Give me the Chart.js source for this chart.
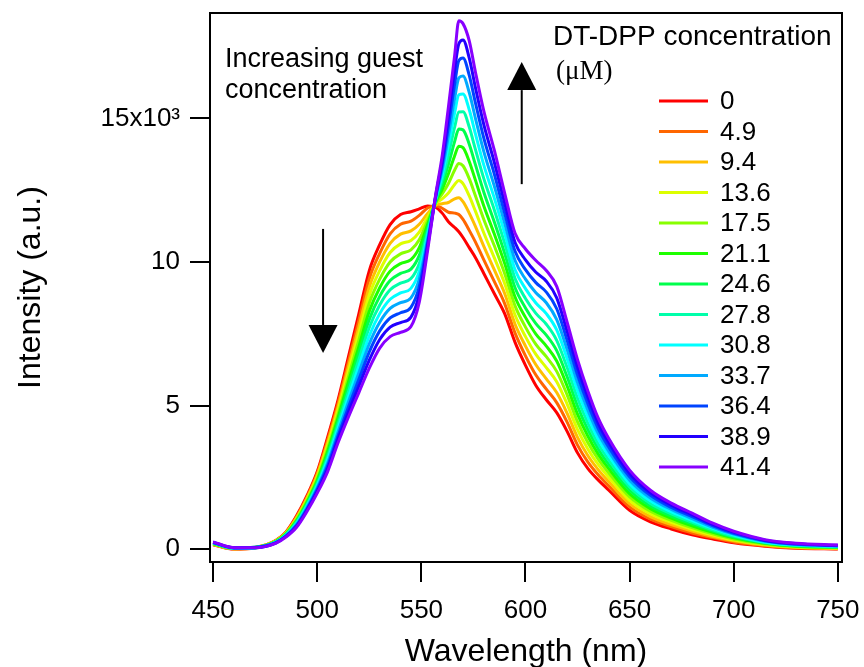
<!DOCTYPE html>
<html>
<head>
<meta charset="utf-8">
<script src="https://cdn.jsdelivr.net/npm/chart.js@4"></script>
<style>
body { margin: 0; background: #fff; }
canvas { display: block; }
</style>
</head>
<body>
<canvas id="spectra" width="864" height="667"></canvas>
<script>
// wavelengths (nm) shared by every spectrum
const wavelengths = [450, 460, 470, 480, 485, 490, 495, 500, 505, 510, 515, 520, 525, 530, 535, 540, 545, 549, 553, 557,
    560, 563, 566, 568, 570, 573, 576, 580, 585, 590, 595, 600, 605, 610, 615, 620, 625, 630, 635, 640,
    650, 660, 670, 680, 690, 700, 715, 730, 750];

// intensity in units of 10^3, one array per DT-DPP concentration
const i00 = [.15, 0, .05, .30, .60, 1.15, 1.85, 2.70, 3.90, 5.20, 6.70, 8.20, 9.70, 10.60, 11.30, 11.65, 11.75, 11.85, 11.95, 11.90,
    11.70, 11.40, 11.20, 11.05, 10.85, 10.50, 10.15, 9.60, 8.90, 8.20, 7.20, 6.40, 5.70, 5.20, 4.75, 4.10, 3.35, 2.80, 2.40, 2.05,
    1.35, .95, .70, .50, .35, .22, .10, .03, 0];
const i49 = [.16, 0, .04, .29, .59, 1.12, 1.80, 2.64, 3.80, 5.08, 6.53, 7.97, 9.42, 10.30, 10.98, 11.31, 11.42, 11.62, 11.88, 11.96,
    11.87, 11.73, 11.70, 11.65, 11.48, 11.10, 10.69, 10.07, 9.32, 8.55, 7.52, 6.73, 6.06, 5.57, 5.10, 4.42, 3.62, 3.03, 2.58, 2.20,
    1.47, 1.04, .78, .56, .40, .25, .12, .04, .01];
const i94 = [.17, .01, .06, .28, .57, 1.08, 1.76, 2.58, 3.70, 4.95, 6.35, 7.74, 9.13, 10.00, 10.65, 10.97, 11.08, 11.31, 11.69, 11.98,
    12.03, 12.07, 12.20, 12.24, 12.10, 11.70, 11.23, 10.54, 9.73, 8.90, 7.83, 7.07, 6.42, 5.93, 5.45, 4.73, 3.89, 3.25, 2.76, 2.35,
    1.58, 1.13, .85, .63, .44, .29, .14, .06, .02];
const i136 = [.17, .01, .05, .28, .56, 1.05, 1.71, 2.51, 3.60, 4.83, 6.18, 7.51, 8.85, 9.70, 10.33, 10.63, 10.75, 11.04, 11.56, 12.03,
    12.20, 12.40, 12.70, 12.84, 12.73, 12.30, 11.76, 11.01, 10.15, 9.25, 8.15, 7.40, 6.78, 6.32, 5.83, 5.05, 4.16, 3.48, 2.94, 2.50,
    1.70, 1.23, .93, .69, .49, .32, .16, .07, .04];
const i175 = [.18, .02, .04, .27, .54, 1.02, 1.67, 2.45, 3.50, 4.70, 6.00, 7.28, 8.57, 9.40, 10.00, 10.28, 10.42, 10.77, 11.43, 12.07,
    12.37, 12.73, 13.20, 13.43, 13.35, 12.90, 12.30, 11.48, 10.57, 9.60, 8.47, 7.73, 7.13, 6.70, 6.19, 5.37, 4.43, 3.70, 3.12, 2.65,
    1.82, 1.32, 1.00, .75, .53, .35, .18, .09, .05];
const i211 = [.19, .02, .05, .26, .53, .98, 1.62, 2.39, 3.40, 4.58, 5.83, 7.05, 8.28, 9.10, 9.68, 9.94, 10.08, 10.50, 11.30, 12.11,
    12.53, 13.07, 13.70, 14.03, 13.98, 13.50, 12.84, 11.95, 10.98, 9.95, 8.78, 8.07, 7.49, 7.07, 6.55, 5.68, 4.70, 3.93, 3.30, 2.80,
    1.93, 1.41, 1.08, .81, .58, .39, .20, .10, .06];
const i246 = [.20, .03, .06, .25, .51, .95, 1.58, 2.33, 3.30, 4.45, 5.65, 6.83, 8.00, 8.80, 9.35, 9.60, 9.75, 10.23, 11.18, 12.15,
    12.70, 13.40, 14.20, 14.63, 14.60, 14.10, 13.38, 12.43, 11.40, 10.30, 9.10, 8.40, 7.85, 7.45, 6.91, 6.00, 4.98, 4.15, 3.48, 2.95,
    2.05, 1.50, 1.15, .88, .63, .42, .22, .12, .07];
const i278 = [.21, .03, .05, .24, .50, .92, 1.53, 2.26, 3.20, 4.33, 5.48, 6.60, 7.72, 8.50, 9.03, 9.26, 9.42, 9.95, 11.05, 12.19,
    12.87, 13.73, 14.70, 15.22, 15.23, 14.70, 13.91, 12.90, 11.82, 10.65, 9.42, 8.73, 8.21, 7.83, 7.27, 6.32, 5.25, 4.38, 3.65, 3.10,
    2.17, 1.59, 1.23, .94, .67, .45, .23, .13, .08];
const i308 = [.22, .03, .04, .23, .48, .88, 1.48, 2.20, 3.10, 4.20, 5.30, 6.37, 7.43, 8.20, 8.70, 8.92, 9.08, 9.68, 10.92, 12.23,
    13.03, 14.07, 15.20, 15.82, 15.85, 15.30, 14.45, 13.37, 12.23, 11.00, 9.73, 9.07, 8.57, 8.20, 7.63, 6.63, 5.52, 4.60, 3.83, 3.25,
    2.28, 1.68, 1.30, 1.00, .72, .49, .25, .14, .09];
const i337 = [.22, .04, .05, .23, .47, .85, 1.44, 2.14, 3.00, 4.08, 5.13, 6.14, 7.15, 7.90, 8.38, 8.58, 8.75, 9.41, 10.79, 12.28,
    13.20, 14.40, 15.70, 16.41, 16.48, 15.90, 14.99, 13.84, 12.65, 11.35, 10.05, 9.40, 8.93, 8.58, 7.99, 6.95, 5.79, 4.83, 4.01, 3.40,
    2.40, 1.78, 1.38, 1.06, .76, .52, .27, .16, .11];
const i364 = [.23, .04, .06, .22, .45, .82, 1.39, 2.08, 2.90, 3.95, 4.95, 5.91, 6.87, 7.60, 8.05, 8.23, 8.42, 9.14, 10.66, 12.32,
    13.37, 14.73, 16.20, 17.01, 17.10, 16.50, 15.53, 14.31, 13.07, 11.70, 10.37, 9.73, 9.28, 8.95, 8.37, 7.27, 6.06, 5.05, 4.19, 3.55,
    2.52, 1.87, 1.45, 1.13, .81, .55, .29, .17, .12];
const i389 = [.24, .05, .05, .21, .44, .78, 1.35, 2.01, 2.80, 3.83, 4.78, 5.68, 6.58, 7.30, 7.73, 7.89, 8.08, 8.87, 10.53, 12.36,
    13.53, 15.07, 16.70, 17.60, 17.73, 17.10, 16.06, 14.78, 13.48, 12.05, 10.68, 10.07, 9.64, 9.33, 8.75, 7.58, 6.33, 5.28, 4.37, 3.70,
    2.63, 1.96, 1.53, 1.19, .85, .59, .31, .19, .13];
const i414 = [.25, .05, .05, .20, .42, .75, 1.30, 1.95, 2.70, 3.70, 4.60, 5.45, 6.30, 7.00, 7.40, 7.55, 7.75, 8.60, 10.40, 12.40,
    13.70, 15.40, 17.20, 18.40, 18.30, 17.70, 16.60, 15.25, 13.90, 12.40, 11.00, 10.45, 10.05, 9.70, 9.15, 7.90, 6.60, 5.50, 4.55, 3.85,
    2.75, 2.05, 1.60, 1.25, .90, .62, .33, .20, .14];

const concLabels = ['0', '4.9', '9.4', '13.6', '17.5', '21.1', '24.6', '27.8', '30.8', '33.7', '36.4', '38.9', '41.4'];
const colors = ['#ff0000', '#ff6600', '#ffbf00', '#ddff00', '#88ff00', '#1eff00', '#00ff4c', '#00ffaa',
    '#00ffff', '#00aaff', '#0044ff', '#2200ff', '#8800ff'];
const xTicks = [450, 500, 550, 600, 650, 700, 750];
const yTicks = [0, 5, 10, 15];

const series = [i00, i49, i94, i136, i175, i211, i246, i278, i308, i337, i364, i389, i414];

const FONT = "'Liberation Sans', Arial, sans-serif";

let datasets = series.map(function(vals, k) {
    return {
        label: concLabels[k],
        data: vals.map(function(v, j) { return { x: wavelengths[j], y: v }; }),
        borderColor: colors[k],
        backgroundColor: colors[k],
        borderWidth: 3,
        pointRadius: 0,
        cubicInterpolationMode: 'monotone',
        order: series.length - k   // last concentration on top
    };
});

// no label overflow padding, the frame is placed by layout.padding
function noPad(scale) {
    scale.paddingTop = 0;
    scale.paddingBottom = 0;
    scale.paddingLeft = 0;
    scale.paddingRight = 0;
}

// frame, legend, arrows and annotation text
const extras = {
    id: 'extras',
    afterDraw: function(chart) {
        const ctx = chart.ctx;
        const a = chart.chartArea;
        const xs = chart.scales.x, ys = chart.scales.y;
        ctx.save();
        ctx.strokeStyle = '#000';
        ctx.lineWidth = 2;
        ctx.beginPath();
        ctx.moveTo(a.left - 1, a.top);
        ctx.lineTo(a.right, a.top);
        ctx.lineTo(a.right, a.bottom + 1);
        ctx.stroke();

        // legend
        ctx.fillStyle = '#000';
        ctx.textBaseline = 'middle';
        ctx.font = '28px ' + FONT;
        ctx.fillText('DT-DPP concentration', 553, 37);
        ctx.font = "27px 'Liberation Serif', 'Times New Roman', serif";
        ctx.fillText('(\u03bcM)', 556, 72);
        ctx.font = '26px ' + FONT;
        chart.data.datasets.forEach(function(ds, i) {
            let y = 101 + i * 30.5;
            ctx.strokeStyle = ds.borderColor;
            ctx.lineWidth = 3;
            ctx.beginPath();
            ctx.moveTo(659, y);
            ctx.lineTo(708, y);
            ctx.stroke();
            ctx.fillStyle = '#000';
            ctx.fillText(ds.label, 720, y + 1);
        });

        // annotation text
        ctx.font = '27px ' + FONT;
        ctx.fillText('Increasing guest', 225, 60);
        ctx.fillText('concentration', 225, 91);

        // arrows (in data units)
        drawArrow(ctx, xs.getPixelForValue(502.8), ys.getPixelForValue(11.15), ys.getPixelForValue(6.83));
        drawArrow(ctx, xs.getPixelForValue(598.2), ys.getPixelForValue(12.71), ys.getPixelForValue(16.96));
        ctx.restore();
    }
};

function drawArrow(ctx, x, y0, y1) {
    let dir = y1 > y0 ? 1 : -1;
    let head = 28;
    ctx.strokeStyle = '#000';
    ctx.fillStyle = '#000';
    ctx.lineWidth = 2;
    ctx.beginPath();
    ctx.moveTo(x, y0);
    ctx.lineTo(x, y1 - dir * head);
    ctx.stroke();
    ctx.beginPath();
    ctx.moveTo(x, y1);
    ctx.lineTo(x - 14.5, y1 - dir * head);
    ctx.lineTo(x + 14.5, y1 - dir * head);
    ctx.closePath();
    ctx.fill();
}

new Chart(document.getElementById('spectra'), {
    type: 'line',
    data: { datasets: datasets },
    options: {
        responsive: false,
        animation: false,
        events: [],
        layout: { padding: { top: 13, right: 22, left: 0, bottom: 0 } },
        plugins: {
            legend: { display: false },
            tooltip: { enabled: false }
        },
        scales: {
            x: {
                type: 'linear',
                min: 448.5,
                max: 752,
                afterBuildTicks: function(scale) { scale.ticks = xTicks.map(function(v) { return { value: v }; }); },
                afterFit: function(scale) { scale.height = 105; noPad(scale); },
                border: { display: true, color: '#000', width: 2 },
                grid: { drawOnChartArea: false, color: '#000', lineWidth: 2, tickLength: 20 },
                ticks: { color: '#000', font: { family: FONT, size: 26 }, padding: 13, maxRotation: 0 },
                title: { display: true, text: 'Wavelength (nm)', color: '#000', font: { family: FONT, size: 32 }, padding: { top: 0, bottom: -4 } }
            },
            y: {
                min: -0.45,
                max: 18.67,
                afterBuildTicks: function(scale) { scale.ticks = yTicks.map(function(v) { return { value: v }; }); },
                afterFit: function(scale) { scale.width = 210; noPad(scale); },
                border: { display: true, color: '#000', width: 2 },
                grid: { drawOnChartArea: false, color: '#000', lineWidth: 2, tickLength: 20 },
                ticks: {
                    color: '#000', font: { family: FONT, size: 26 }, padding: 10,
                    callback: function(v) { return v === 15 ? '15x10\u00b3' : String(v); }
                },
                title: { display: true, text: 'Intensity (a.u.)', color: '#000', font: { family: FONT, size: 32 }, padding: { top: 12, bottom: 0 } }
            }
        }
    },
    plugins: [extras]
});
</script>
</body>
</html>
